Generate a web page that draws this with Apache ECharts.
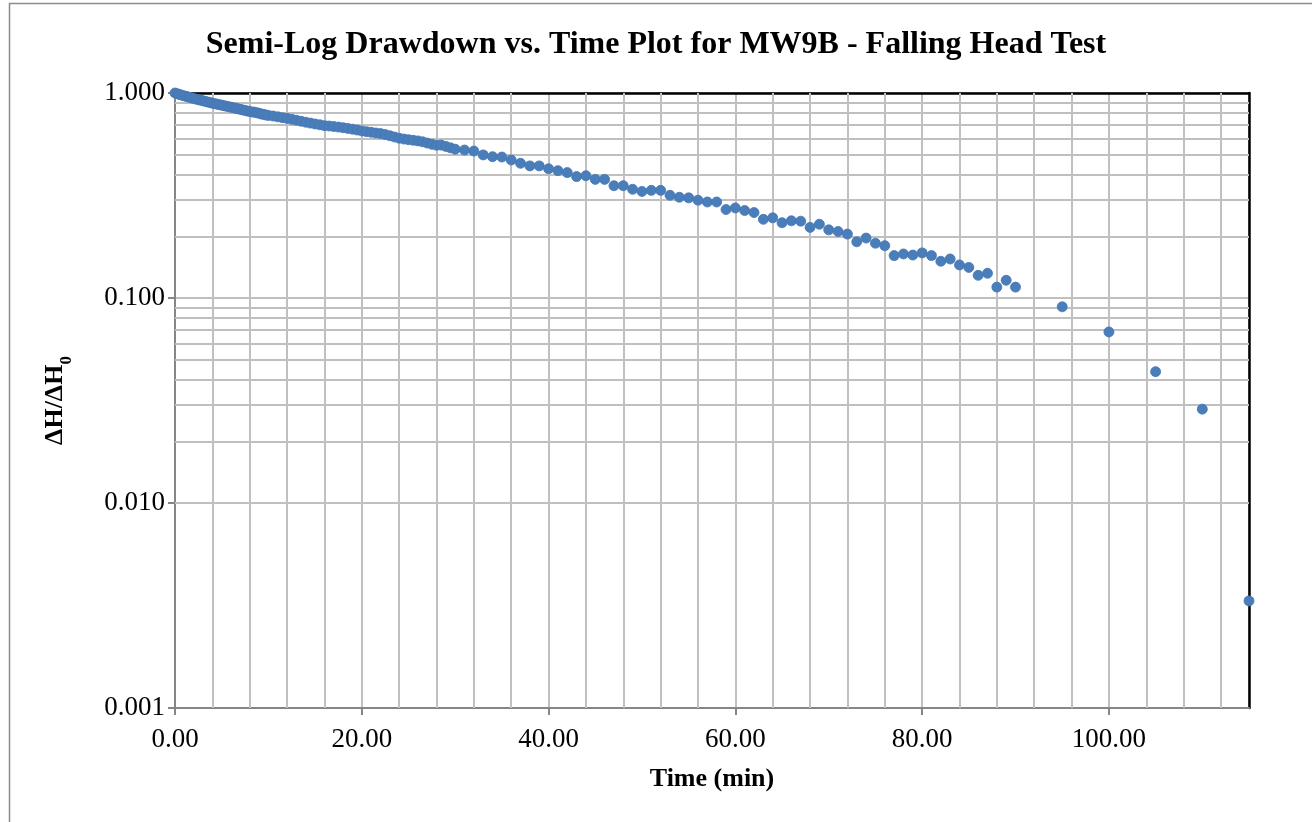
<!DOCTYPE html>
<html>
<head>
<meta charset="utf-8">
<script src="https://cdn.jsdelivr.net/npm/echarts@6/dist/echarts.min.js"></script>
<style>html,body{margin:0;padding:0;background:#fff}#c{width:1312px;height:822px}</style>
</head>
<body>
<div id="c"></div>
<script>
const titleText = 'Semi-Log Drawdown vs. Time Plot for MW9B - Falling Head Test';
const xTitle = 'Time (min)';
const timeMin = [
 0,0.25,0.5,0.75,1,1.25,1.5,1.75,2,2.25,2.5,2.75,3,3.25,3.5,3.75,4,4.25,4.5,4.75,5,5.25,5.5,5.75,6,6.25,6.5,6.75,7,7.25,7.5,7.75,8,8.25,8.5,8.75,9,9.25,9.5,9.75,10,
 10.5,11,11.5,12,12.5,13,13.5,14,14.5,15,15.5,16,16.5,17,17.5,18,18.5,19,19.5,20,20.5,21,21.5,22,22.5,23,23.5,24,24.5,25,25.5,26,26.5,27,27.5,28,28.5,29,29.5,30,
 31,32,33,34,35,36,37,38,39,40,41,42,43,44,45,46,47,48,49,50,51,52,53,54,55,56,57,58,59,60,
 61,62,63,64,65,66,67,68,69,70,71,72,73,74,75,76,77,78,79,80,81,82,83,84,85,86,87,88,89,90,
 95,100,105,110,115
];
const headRatio = [
 1.000,0.991,0.983,0.975,0.968,0.961,0.954,0.947,0.940,0.934,0.928,0.922,0.916,0.910,0.904,0.898,0.892,0.887,0.882,0.877,0.872,0.867,0.862,0.857,0.852,0.847,0.842,0.837,0.832,0.827,0.822,0.817,0.812,0.808,0.806,0.801,0.796,0.790,0.786,0.781,0.777,
 0.772,0.765,0.758,0.752,0.745,0.736,0.728,0.720,0.713,0.706,0.700,0.693,0.690,0.686,0.682,0.677,0.672,0.666,0.660,0.653,0.648,0.643,0.638,0.634,0.627,0.619,0.610,0.602,0.596,0.592,0.588,0.584,0.578,0.570,0.562,0.556,0.557,0.549,0.540,0.532,
 0.527,0.521,0.499,0.489,0.487,0.471,0.454,0.441,0.441,0.427,0.418,0.409,0.391,0.395,0.379,0.379,0.353,0.353,0.339,0.331,0.335,0.335,0.317,0.310,0.308,0.300,0.294,0.294,0.270,0.275,
 0.267,0.261,0.242,0.246,0.233,0.238,0.237,0.221,0.229,0.215,0.211,0.205,0.188,0.196,0.185,0.180,0.161,0.164,0.162,0.166,0.161,0.151,0.155,0.145,0.141,0.129,0.132,0.113,0.122,0.113,
 0.0906,0.0683,0.0437,0.0287,0.00333
];
const xMinorGrid = [4,8,12,16,24,28,32,36,44,48,52,56,64,68,72,76,84,88,92,96,104,108,112];
const yMinorGrid = [0.002,0.003,0.004,0.005,0.006,0.007,0.008,0.009,0.02,0.03,0.04,0.05,0.06,0.07,0.08,0.09,0.2,0.3,0.4,0.5,0.6,0.7,0.8,0.9];

const FONT = '"Liberation Serif","Times New Roman",serif';
const GRID = '#c0c0c0';
const AXIS = '#868686';
const chart = echarts.init(document.getElementById('c'));
const points = timeMin.map((t, i) => [t, headRatio[i]]);

chart.setOption({
  animation: false,
  backgroundColor: '#fff',
  graphic: [{
    type: 'rect', left: 7, top: 1, silent: true,
    shape: { width: 1330, height: 850 },
    style: { fill: 'none', stroke: '#8c8c8c', lineWidth: 1.5 }
  }],
  title: {
    text: titleText, left: 'center', top: 24,
    textStyle: { fontFamily: FONT, fontSize: 32, fontWeight: 'bold', color: '#000' }
  },
  grid: { left: 175, top: 93, right: 63, bottom: 114, containLabel: false },
  xAxis: [{
    type: 'value', min: 0, max: 115, interval: 20, position: 'bottom', z: 3,
    name: xTitle, nameLocation: 'middle', nameGap: 58,
    nameTextStyle: { fontFamily: FONT, fontSize: 26, fontWeight: 'bold', color: '#000' },
    axisLine: { show: true, onZero: false, lineStyle: { color: AXIS, width: 2 } },
    axisTick: { show: true, length: 7, lineStyle: { color: AXIS, width: 2 } },
    axisLabel: { showMaxLabel: false, margin: 18, fontFamily: FONT, fontSize: 27, color: '#000',
      formatter: v => v.toFixed(2) },
    splitLine: { show: true, lineStyle: { color: GRID, width: 2 } }
  }, {
    type: 'value', min: 0, max: 115, position: 'top', z: 3,
    axisLine: { show: true, onZero: false, lineStyle: { color: '#000', width: 2.5 } },
    axisTick: { show: false }, axisLabel: { show: false }, splitLine: { show: false }
  }],
  yAxis: [{
    type: 'log', logBase: 10, min: 0.001, max: 1, position: 'left', z: 3,
    name: '{a|ΔH/ΔH}{b|0}', nameLocation: 'middle', nameRotate: 90, nameGap: 100,
    nameTextStyle: { fontFamily: FONT, fontSize: 26, fontWeight: 'bold', color: '#000',
      rich: {
        a: { fontFamily: FONT, fontSize: 26, fontWeight: 'bold', color: '#000', lineHeight: 40, verticalAlign: 'middle' },
        b: { fontFamily: FONT, fontSize: 17, fontWeight: 'bold', color: '#000', lineHeight: 40, verticalAlign: 'bottom' }
      } },
    axisLine: { show: true, onZero: false, lineStyle: { color: AXIS, width: 2 } },
    axisTick: { show: true, length: 7, lineStyle: { color: AXIS, width: 2 } },
    axisLabel: { margin: 10, fontFamily: FONT, fontSize: 27, color: '#000',
      formatter: v => Number(v).toFixed(3) },
    splitLine: { show: true, lineStyle: { color: GRID, width: 2 } }
  }, {
    type: 'value', min: 0, max: 1, position: 'right', z: 3,
    axisLine: { show: true, onZero: false, lineStyle: { color: '#000', width: 2.5 } },
    axisTick: { show: false }, axisLabel: { show: false }, splitLine: { show: false }
  }],
  series: [{
    type: 'line', data: [], z: 1, silent: true,
    markLine: {
      silent: true, symbol: 'none', label: { show: false }, animation: false,
      lineStyle: { color: GRID, width: 2, type: 'solid' },
      emphasis: { disabled: true },
      data: yMinorGrid.map(v => ({ yAxis: v })).concat(xMinorGrid.map(v => ({ xAxis: v })))
    }
  }, {
    type: 'scatter', data: points, z: 5, clip: false,
    symbol: 'circle', symbolSize: 10,
    itemStyle: { color: '#4a7ebb', borderColor: '#4576b3', borderWidth: 0.8, opacity: 1 }
  }]
});
</script>
</body>
</html>
